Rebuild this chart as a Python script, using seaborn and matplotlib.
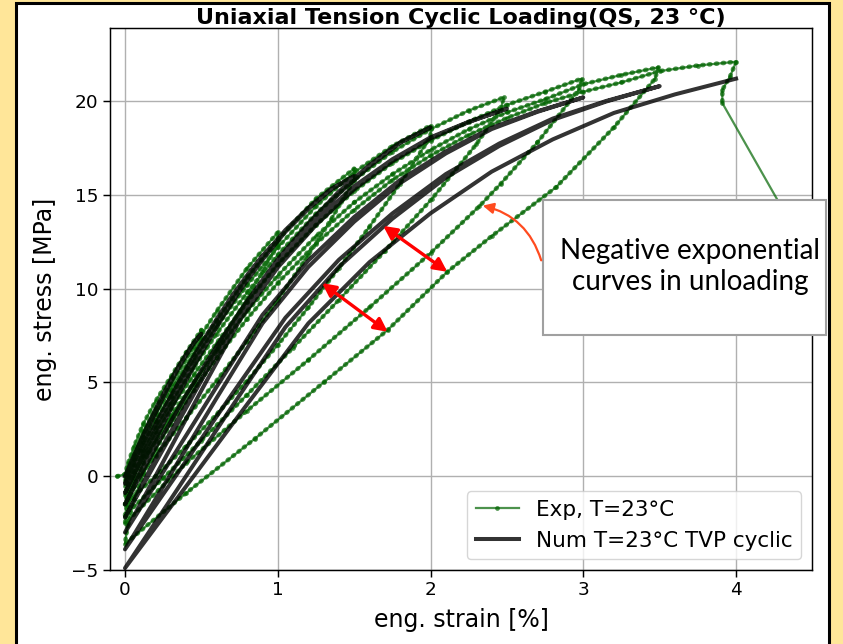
import numpy as np
import pandas as pd
import matplotlib
matplotlib.use("Agg")
import matplotlib.pyplot as plt
import seaborn as sns
from matplotlib.lines import Line2D
from matplotlib.patches import Rectangle, FancyArrowPatch

# ---------------- Experimental data (strain %, stress MPa), per cycle ----------------
exp_c1_strain = [-0.05, 0.0, 0.02, 0.06, 0.12, 0.2, 0.3, 0.4, 0.5, 0.5, 0.4, 0.3, 0.2, 0.1, 0.0]
exp_c1_stress = [0.0, 0.1, 0.7, 1.6, 2.8, 4.0, 5.3, 6.6, 7.8, 7.3, 5.8, 4.3, 2.9, 1.4, -0.2]

exp_c2_strain = [0.02, 0.06, 0.12, 0.2, 0.3, 0.45, 0.6, 0.8, 1.0, 1.0, 0.9, 0.75, 0.6, 0.45, 0.3, 0.15, 0.0]
exp_c2_stress = [0.3, 1.2, 2.4, 3.6, 4.9, 6.9, 8.8, 11.1, 13.0, 12.4, 10.9, 8.8, 6.8, 4.9, 3.1, 1.3, -0.5]

exp_c3_strain = [0.02, 0.06, 0.12, 0.2, 0.3, 0.45, 0.6, 0.8, 1.0, 1.25, 1.5, 1.5, 1.35, 1.2, 1.0, 0.8, 0.6, 0.4, 0.2, 0.0]
exp_c3_stress = [0.0, 0.9, 2.1, 3.3, 4.6, 6.5, 8.3, 10.6, 12.6, 14.8, 16.4, 15.8, 13.7, 11.8, 9.4, 7.2, 5.1, 3.1, 1.1, -1.0]

exp_c4_strain = [0.02, 0.06, 0.12, 0.2, 0.3, 0.45, 0.6, 0.8, 1.0, 1.25, 1.5, 1.75, 2.0, 2.0, 1.8, 1.6, 1.4, 1.2, 1.0, 0.8, 0.6, 0.4, 0.2, 0.0]
exp_c4_stress = [-0.4, 0.6, 1.8, 3.0, 4.3, 6.2, 8.0, 10.2, 12.2, 14.4, 16.2, 17.6, 18.7, 18.1, 15.6, 13.3, 11.1, 9.0, 7.0, 5.1, 3.3, 1.6, 0.0, -1.5]

exp_c5_strain = [0.02, 0.06, 0.12, 0.2, 0.3, 0.45, 0.6, 0.8, 1.0, 1.25, 1.5, 1.75, 2.0, 2.25, 2.48, 2.46, 2.3, 2.01, 1.7, 1.4, 1.1, 0.8, 0.5, 0.25, 0.0]
exp_c5_stress = [-0.8, 0.2, 1.4, 2.6, 3.9, 5.8, 7.6, 9.8, 11.8, 14.0, 15.8, 17.3, 18.5, 19.5, 20.2, 19.6, 17.7, 14.8, 12.0, 9.4, 6.85, 4.35, 1.9, -0.1, -2.1]

exp_c6_strain = [0.02, 0.06, 0.12, 0.2, 0.3, 0.45, 0.6, 0.8, 1.0, 1.25, 1.5, 1.75, 2.0, 2.25, 2.5, 2.75, 2.99, 2.97, 2.7, 2.46, 2.32, 2.0, 1.6, 1.2, 0.8, 0.4, 0.0]
exp_c6_stress = [-1.2, -0.1, 1.1, 2.3, 3.6, 5.4, 7.1, 9.3, 11.3, 13.4, 15.2, 16.7, 17.9, 18.9, 19.8, 20.5, 21.2, 20.6, 17.8, 15.6, 14.4, 11.9, 9.0, 6.2, 3.5, 0.7, -2.5]

exp_c7_strain = [0.02, 0.06, 0.12, 0.2, 0.3, 0.45, 0.6, 0.8, 1.0, 1.25, 1.5, 1.75, 2.0, 2.25, 2.5, 2.75, 3.0, 3.25, 3.49, 3.47, 3.2, 2.82, 2.4, 2.11, 1.72, 1.3, 0.85, 0.4, 0.0]
exp_c7_stress = [-1.6, -0.5, 0.7, 1.9, 3.2, 5.0, 6.7, 8.8, 10.7, 12.8, 14.6, 16.1, 17.4, 18.5, 19.4, 20.1, 20.9, 21.4, 21.8, 21.2, 18.6, 15.4, 12.8, 10.9, 7.8, 5.0, 2.0, -0.9, -3.6]

exp_c8_strain = [0.02, 0.06, 0.12, 0.2, 0.3, 0.45, 0.6, 0.8, 1.0, 1.25, 1.5, 1.75, 2.0, 2.25, 2.5, 2.75, 3.0, 3.25, 3.5, 3.75, 4.0, 3.96, 3.91, 3.91]
exp_c8_stress = [-2.5, -1.2, 0.1, 1.4, 2.8, 4.6, 6.3, 8.4, 10.3, 12.4, 14.2, 15.8, 17.1, 18.2, 19.1, 19.9, 20.5, 21.0, 21.6, 21.9, 22.1, 21.3, 20.6, 19.9]

exp_fracture_strain = [5.3, 4.52]
exp_fracture_stress = [0.0, 0.0]

# ---------------- Numerical (TVP cyclic) data, per cycle ----------------
num_c1_strain = [0.0, 0.05, 0.1, 0.15, 0.2, 0.25, 0.3, 0.35, 0.4, 0.45, 0.5,
                 0.45, 0.4, 0.35, 0.3, 0.25, 0.2, 0.15, 0.1, 0.05, 0.0]
num_c1_stress = [0.0, 0.95, 1.86, 2.74, 3.57, 4.37, 5.13, 5.85, 6.5, 7.11, 7.6,
                 7.08, 6.44, 5.76, 5.0, 4.2, 3.36, 2.48, 1.56, 0.6, -0.4]

num_c2_strain = [0.1, 0.2, 0.3, 0.4, 0.5, 0.6, 0.7, 0.8, 0.9, 1.0,
                 0.9, 0.8, 0.7, 0.6, 0.5, 0.4, 0.3, 0.2, 0.1, 0.0]
num_c2_stress = [1.22, 2.79, 4.28, 5.71, 7.08, 8.38, 9.61, 10.72, 11.76, 12.6,
                 11.72, 10.64, 9.5, 8.21, 6.86, 5.45, 3.96, 2.41, 0.79, -0.9]

num_c3_strain = [0.15, 0.3, 0.45, 0.6, 0.75, 0.9, 1.05, 1.2, 1.35, 1.5,
                 1.35, 1.2, 1.05, 0.9, 0.75, 0.6, 0.45, 0.3, 0.15, 0.0]
num_c3_stress = [1.64, 4.0, 6.2, 8.23, 10.09, 11.69, 13.13, 14.31, 15.32, 16.0,
                 15.3, 14.25, 13.03, 11.54, 9.88, 7.95, 5.85, 3.58, 1.13, -1.5]

num_c4_strain = [0.2, 0.4, 0.6, 0.8, 1.0, 1.2, 1.4, 1.6, 1.8, 2.0,
                 1.8, 1.6, 1.4, 1.2, 1.0, 0.8, 0.6, 0.4, 0.2, 0.0]
num_c4_stress = [1.52, 4.33, 6.94, 9.35, 11.57, 13.47, 15.18, 16.59, 17.8, 18.6,
                 17.77, 16.52, 15.06, 13.3, 11.32, 9.03, 6.54, 3.83, 0.92, -2.2]

num_c5_strain = [0.25, 0.5, 0.75, 1.0, 1.25, 1.5, 1.75, 2.0, 2.25, 2.5,
                 2.25, 2.0, 1.75, 1.5, 1.25, 1.0, 0.75, 0.5, 0.25, 0.0]
num_c5_stress = [1.44, 5.1, 8.7, 11.43, 13.61, 15.46, 16.9, 18.07, 18.9, 19.6,
                 18.88, 18.02, 16.8, 15.31, 13.39, 11.13, 8.3, 4.57, 0.77, -3.0]

num_c6_strain = [0.3, 0.6, 0.9, 1.2, 1.5, 1.8, 2.1, 2.4, 2.7, 3.0,
                 2.7, 2.4, 2.1, 1.8, 1.5, 1.2, 0.9, 0.6, 0.3, 0.0]
num_c6_stress = [0.87, 4.77, 8.6, 11.5, 13.82, 15.79, 17.32, 18.58, 19.46, 20.2,
                 19.43, 18.51, 17.21, 15.62, 13.57, 11.16, 8.15, 4.17, 0.12, -3.9]

num_c7_strain = [0.35, 0.7, 1.05, 1.4, 1.75, 2.1, 2.45, 2.8, 3.15, 3.5,
                 3.15, 2.8, 2.45, 2.1, 1.75, 1.4, 1.05, 0.7, 0.35, 0.0]
num_c7_stress = [0.22, 4.37, 8.45, 11.54, 14.01, 16.11, 17.74, 19.07, 20.01, 20.8,
                 19.98, 19.0, 17.61, 15.92, 13.73, 11.16, 7.95, 3.71, -0.61, -4.9]

num_c8_strain = [0.4, 0.8, 1.2, 1.6, 2.0, 2.4, 2.8, 3.2, 3.6, 4.0]
num_c8_stress = [-0.54, 3.84, 8.15, 11.41, 14.02, 16.24, 17.96, 19.37, 20.36, 21.2]

x_ticks = [0, 1, 2, 3, 4]
y_ticks = [-5, 0, 5, 10, 15, 20]

# ---------------- Assemble ----------------
exp_cyc_strain = (exp_c1_strain + exp_c2_strain + exp_c3_strain + exp_c4_strain +
                  exp_c5_strain + exp_c6_strain + exp_c7_strain + exp_c8_strain)
exp_cyc_stress = (exp_c1_stress + exp_c2_stress + exp_c3_stress + exp_c4_stress +
                  exp_c5_stress + exp_c6_stress + exp_c7_stress + exp_c8_stress)
df_exp = pd.DataFrame({"strain": exp_cyc_strain + exp_fracture_strain,
                       "stress": exp_cyc_stress + exp_fracture_stress})

num_strain = (num_c1_strain + num_c2_strain + num_c3_strain + num_c4_strain +
              num_c5_strain + num_c6_strain + num_c7_strain + num_c8_strain)
num_stress = (num_c1_stress + num_c2_stress + num_c3_stress + num_c4_stress +
              num_c5_stress + num_c6_stress + num_c7_stress + num_c8_stress)
df_num = pd.DataFrame({"strain": num_strain, "stress": num_stress})

GREEN = "#006400"
W, H = 843, 644

fig = plt.figure(figsize=(W / 100, H / 100), dpi=100, facecolor="#FFE699")
plt.rcParams["font.family"] = ["DejaVu Sans"]

# white slide panel with black frame
fig.add_artist(Rectangle((16 / W, -0.05), (829 - 16) / W, 1 - 3 / H + 0.05,
                         transform=fig.transFigure, facecolor="white",
                         edgecolor="black", lw=2.2, zorder=-5))

ax = fig.add_axes([110 / W, 1 - 570 / H, (812 - 110) / W, (570 - 28) / H])

sns.lineplot(data=df_exp, x="strain", y="stress", sort=False, estimator=None,
             color=GREEN, alpha=0.7, lw=1.6, marker="o", markersize=3.4,
             markeredgewidth=0, ax=ax, legend=False)
# dense sample dots along the measured path
ax.plot(exp_cyc_strain, exp_cyc_stress, ls=(0, (0.25, 1.25)), lw=3.3,
        dash_capstyle="round", color=GREEN, alpha=0.7)

sns.lineplot(data=df_num, x="strain", y="stress", sort=False, estimator=None,
             color="black", alpha=0.8, lw=2.9, ax=ax, legend=False)

ax.set_xlim(-0.098, 4.497)
ax.set_ylim(-5, 23.9)
ax.set_xticks(x_ticks)
ax.set_yticks(y_ticks)
ax.grid(True, color="#b0b0b0", lw=1.0)
ax.set_axisbelow(True)
ax.tick_params(labelsize=13.3, length=4.7, width=1.05)
for s in ax.spines.values():
    s.set_linewidth(1.05)

ax.set_xlabel("eng. strain [%]", fontsize=17, labelpad=6)
ax.set_ylabel("eng. stress [MPa]", fontsize=17, labelpad=10)
ax.set_title("Uniaxial Tension Cyclic Loading(QS, 23 °C)", fontsize=16,
             fontweight="bold", pad=1.5)

handles = [Line2D([], [], color=GREEN, alpha=0.7, lw=1.6, marker="o", ms=3.4, mew=0),
           Line2D([], [], color="black", alpha=0.8, lw=2.9)]
ax.legend(handles, ["Exp, T=23°C", "Num T=23°C TVP cyclic"], loc="lower right",
          fontsize=15.5, framealpha=0.8)

# red double arrows (numerical vs experimental unloading)
for tail, head in [((1.69, 13.35), (2.11, 10.9)), ((1.29, 10.3), (1.72, 7.7))]:
    ax.annotate("", xy=head, xytext=tail,
                arrowprops=dict(arrowstyle="<|-|>", color="red", lw=2.4,
                                mutation_scale=20, shrinkA=0, shrinkB=0))

# callout box
fig.add_artist(Rectangle((543 / W, 1 - 335 / H), (826 - 543) / W, 135 / H,
                         transform=fig.transFigure, facecolor="white",
                         edgecolor="#A0A0A0", lw=1.5, zorder=5))
fig.text(690 / W, 1 - 266.5 / H, "Negative exponential\ncurves in unloading",
         ha="center", va="center", fontsize=20, family="Lato", linespacing=1.2,
         zorder=6)

arr = FancyArrowPatch((542, H - 263), (480, H - 205), transform=None,
                      arrowstyle="-|>", connectionstyle="arc3,rad=0.3",
                      color="#FF4B1F", lw=1.6, mutation_scale=16, zorder=7)
fig.add_artist(arr)

fig.savefig("out.png", dpi=100, facecolor=fig.get_facecolor())
